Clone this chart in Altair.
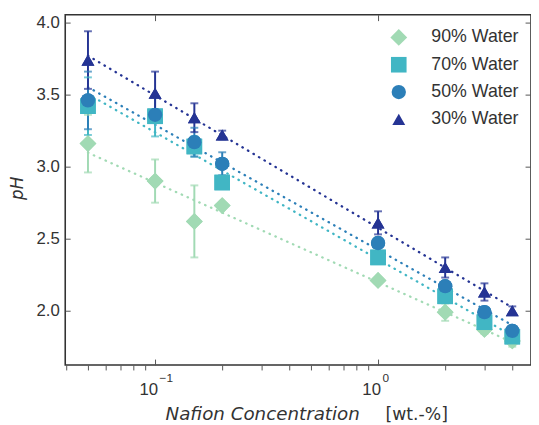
import altair as alt
import pandas as pd

conc = [0.05, 0.1, 0.15, 0.2, 1, 2, 3, 4]
series = ["90% Water", "70% Water", "50% Water", "30% Water"]
ph_90 = [3.16, 2.90, 2.62, 2.73, 2.21, 1.99, 1.87, 1.79]
err_90 = [0.20, 0.15, 0.25, 0.02, 0.02, 0.06, 0.03, 0.04]
ph_70 = [3.42, 3.35, 3.14, 2.89, 2.37, 2.10, 1.92, 1.82]
err_70 = [0.20, 0.14, 0.07, 0.03, 0.02, 0.03, 0.03, 0.04]
ph_50 = [3.46, 3.36, 3.17, 3.02, 2.47, 2.17, 1.99, 1.86]
err_50 = [0.20, 0.02, 0.10, 0.08, 0.03, 0.03, 0.03, 0.03]
ph_30 = [3.74, 3.51, 3.34, 3.22, 2.61, 2.30, 2.13, 2.00]
err_30 = [0.20, 0.15, 0.10, 0.03, 0.08, 0.07, 0.06, 0.03]

colors = ["#a1dab4", "#41b6c4", "#2c7fb8", "#253494"]
shapes = ["diamond", "square", "circle", "triangle-up"]
sizes = [290, 170, 165, 190]

y_ticks = [2.0, 2.5, 3.0, 3.5, 4.0]
x_major = [0.1, 1]
x_minor = [0.04, 0.05, 0.06, 0.07, 0.08, 0.09, 0.2, 0.3, 0.4, 0.5, 0.6,
           0.7, 0.8, 0.9, 2, 3, 4]

rows = []
for name, ph, err in zip(series, [ph_90, ph_70, ph_50, ph_30],
                         [err_90, err_70, err_50, err_30]):
    for c, p, e in zip(conc, ph, err):
        rows.append({"series": name, "conc": c, "ph": p,
                     "lo": round(p - e, 3), "hi": round(p + e, 3)})
df = pd.DataFrame(rows)

W, H = 472, 355
xs = alt.Scale(type="log", domain=[0.03954, 4.852], nice=False)
ys = alt.Scale(domain=[1.623, 4.055], nice=False, zero=False)
cs = alt.Scale(domain=series, range=colors)
ss = alt.Scale(domain=series, range=shapes)
zs = alt.Scale(domain=series, range=sizes)

TICK = "#555555"
TXT = "#333333"

base = alt.Chart(df)

legend = alt.Legend(title=None, orient="none", legendX=329, legendY=14,
                    labelFont="Liberation Sans", labelFontSize=18,
                    labelColor=TXT, labelOffset=24, rowPadding=9.7)

# markers carrying the legend (first layer)
points = base.mark_point(filled=True, opacity=1).encode(
    x=alt.X("conc:Q", scale=xs, axis=None),
    y=alt.Y("ph:Q", scale=ys, axis=None),
    color=alt.Color("series:N", scale=cs, legend=legend),
    shape=alt.Shape("series:N", scale=ss, legend=legend),
    size=alt.Size("series:N", scale=zs, legend=legend),
)

# regression lines, minor x ticks (outward), left y axis
lines = base.transform_regression(
    "conc", "ph", method="log", groupby=["series"]
).mark_line(strokeDash=[0.5, 6], strokeCap="round", strokeWidth=2.3).encode(
    x=alt.X("conc:Q", scale=xs, axis=alt.Axis(
        orient="bottom", values=x_minor, labels=False, domain=False,
        grid=False, tickSize=5, tickColor=TICK, tickWidth=1, title=None)),
    y=alt.Y("ph:Q", scale=ys, axis=alt.Axis(
        orient="left", values=y_ticks, format=".1f", offset=-5, tickSize=5,
        tickColor=TICK, tickWidth=1, domain=False, grid=False,
        labelFont="Liberation Sans", labelFontSize=17, labelColor=TXT,
        labelPadding=6, labelFlush=False,
        title="pH", titleFont="DejaVu Sans", titleFontStyle="italic",
        titleFontWeight="normal", titleFontSize=17, titleColor=TXT,
        titleAngle=270, titleAlign="center", titleBaseline="alphabetic",
        titleX=-48.5, titleY=175.5)),
    stroke=alt.Stroke("series:N", scale=cs, legend=None),
)

# error bar stems, major x labels "10", right y ticks
rules = base.mark_rule(strokeWidth=2).encode(
    x=alt.X("conc:Q", scale=xs, axis=alt.Axis(
        orient="bottom", values=x_major, labelExpr="'10'", offset=-6,
        tickSize=6, tickColor=TICK, tickWidth=1, domain=False, grid=False,
        labelFont="Liberation Sans", labelFontSize=17, labelColor=TXT,
        labelAlign="right", labelOffset=2.5, labelBaseline="alphabetic",
        labelPadding=29.7, labelFlush=False, labelOverlap=False,
        title="Nafion Concentration", titleFont="DejaVu Sans",
        titleFontStyle="italic", titleFontWeight="normal",
        titleFontSize=18.5, titleColor=TXT, titleAlign="right",
        titleBaseline="alphabetic", titleX=298, titleY=61.5)),
    y=alt.Y("lo:Q", scale=ys, axis=alt.Axis(
        orient="right", values=y_ticks, labels=False, offset=-6, tickSize=6,
        tickColor=TICK, tickWidth=1, domain=False, grid=False, title=None)),
    y2="hi:Q",
    stroke=alt.Stroke("series:N", scale=cs, legend=None),
)

# lower caps, top x ticks
caps_lo = base.mark_tick(orient="horizontal", size=8, thickness=2).encode(
    x=alt.X("conc:Q", scale=xs, axis=alt.Axis(
        orient="top", values=x_major, labels=False, offset=-6, tickSize=6,
        tickColor=TICK, tickWidth=1, domain=False, grid=False, title=None)),
    y=alt.Y("lo:Q", scale=ys, axis=None),
    fill=alt.Fill("series:N", scale=cs, legend=None),
)

# upper caps, exponent labels and unit part of title
caps_hi = base.mark_tick(orient="horizontal", size=8, thickness=2).encode(
    x=alt.X("conc:Q", scale=xs, axis=alt.Axis(
        orient="bottom", values=x_major,
        labelExpr="datum.value < 0.5 ? '\u22121' : '0'",
        ticks=False, tickSize=0, domain=False, grid=False,
        labelFont="Liberation Sans", labelFontSize=12, labelColor=TXT,
        labelAlign="left", labelOffset=4, labelBaseline="alphabetic",
        labelPadding=16.3, labelFlush=False, labelOverlap=False,
        title="[wt.-%]", titleFont="DejaVu Sans", titleFontWeight="normal",
        titleFontSize=17.5, titleColor=TXT, titleAlign="left",
        titleBaseline="alphabetic", titleX=324, titleY=55.5)),
    y=alt.Y("hi:Q", scale=ys, axis=None),
    fill=alt.Fill("series:N", scale=cs, legend=None),
)

# markers again on top of lines and bars, without a legend of their own
points_top = base.mark_point(filled=True, opacity=1).encode(
    x=alt.X("conc:Q", scale=xs, axis=None),
    y=alt.Y("ph:Q", scale=ys, axis=None),
    fill=alt.Fill("series:N", scale=cs, legend=None),
    shape=alt.Shape("series:N", scale=ss, legend=None),
    size=alt.Size("series:N", scale=zs, legend=None),
)

chart = alt.layer(points, lines, rules, caps_lo, caps_hi, points_top
).resolve_axis(
    x="independent", y="independent"
).properties(
    width=W, height=H,
    autosize=alt.AutoSizeParams(type="none"),
    padding={"left": 58, "top": 4, "right": 0, "bottom": 58},
).configure_view(stroke="#333333", strokeWidth=1.6).configure_axis(
    grid=False
).configure_legend(padding=0, symbolStrokeWidth=0)

chart.save("out.html", embed_options={"renderer": "svg", "actions": False})
